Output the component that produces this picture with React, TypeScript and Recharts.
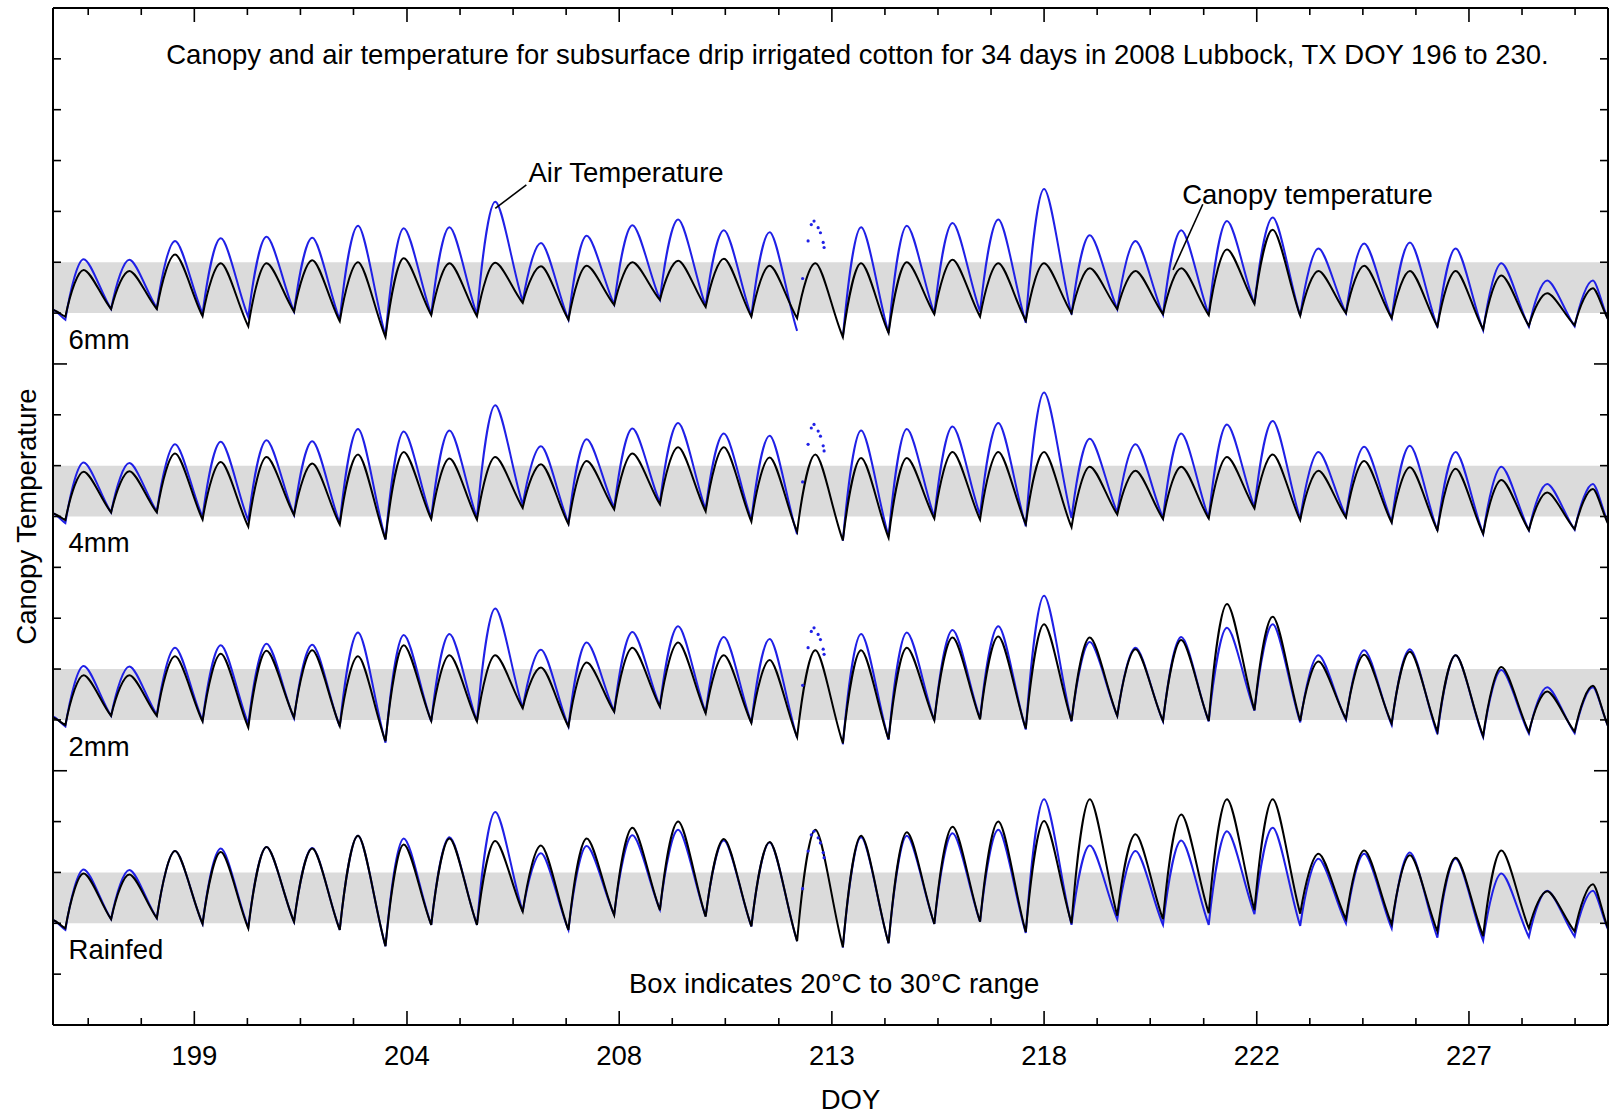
import React from "react";
import {
  ComposedChart,
  Line,
  XAxis,
  YAxis,
  ReferenceArea,
  ReferenceLine,
  ReferenceDot,
} from "recharts";

// day of year, one entry per daily cycle
const DOY = [
  196, 197, 198, 199, 200, 201, 202, 203, 204, 205, 206, 207, 208, 209, 210, 211, 212,
  213, 214, 215, 216, 217, 218, 219, 220, 221, 222, 223, 224, 225, 226, 227, 228, 229,
];

// air temperature (°C): dawn minimum and afternoon maximum of each day
const AIR_MIN = [
  18.7, 20.8, 21.0, 19.9, 19.2, 20.3, 18.7, 15.5, 19.7, 19.7, 22.3, 18.7, 21.7, 22.7, 21.4, 19.4, 16.5,
  15.2, 16.1, 19.9, 20.3, 18.1, 19.7, 20.8, 19.7, 19.7, 21.8, 19.5, 20.0, 19.0, 17.2, 16.6, 17.3, 17.4,
];
// DOY 212: the logger only kept a few scattered readings (AIR_DOTS_212)
const AIR_MAX = [
  30.6, 30.5, 34.2, 34.7, 35.0, 34.8, 37.2, 36.7, 36.9, 41.9, 33.8, 35.2, 37.3, 38.4, 36.3, 35.9, null,
  36.9, 37.2, 37.7, 38.4, 44.4, 35.3, 34.2, 36.3, 38.1, 38.8, 32.7, 33.7, 33.9, 32.7, 29.8, 26.4, 26.4,
];
const AIR_START = 20.6;
const AIR_END = 18.8;
const AIR_DOTS_212 = [
  { t: 212.39, v: 26.8 },
  { t: 212.51, v: 34.2 },
  { t: 212.58, v: 37.4 },
  { t: 212.64, v: 38.1 },
  { t: 212.73, v: 36.8 },
  { t: 212.78, v: 35.8 },
  { t: 212.84, v: 33.9 },
  { t: 212.86, v: 32.9 },
];

// canopy temperature (°C) per irrigation level
const CAN_6MM_MIN = [
  19.3, 20.8, 20.8, 19.4, 17.4, 20.3, 18.4, 15.3, 19.6, 19.4, 22.0, 18.7, 21.6, 22.6, 21.2, 19.3, 19.0,
  15.3, 16.1, 19.8, 19.3, 18.5, 20.0, 20.8, 19.8, 19.6, 21.8, 19.5, 20.0, 19.0, 17.4, 16.8, 17.5, 17.6,
];
const CAN_6MM_MAX = [
  28.5, 28.3, 31.5, 29.8, 29.8, 30.4, 30.0, 30.8, 29.8, 29.9, 29.2, 29.3, 30.0, 30.3, 30.7, 29.3, 29.8,
  29.8, 30.0, 30.5, 29.8, 29.8, 28.8, 28.3, 28.8, 32.5, 36.4, 28.3, 29.3, 28.3, 28.3, 27.4, 23.9, 24.9,
];
const CAN_4MM_MIN = [
  19.3, 20.8, 20.8, 19.4, 18.0, 20.3, 18.4, 15.5, 19.5, 19.4, 21.7, 18.5, 21.4, 22.4, 21.0, 19.0, 17.0,
  15.3, 15.8, 19.6, 19.4, 18.5, 17.9, 20.4, 19.5, 19.6, 21.6, 19.3, 19.8, 18.8, 17.3, 16.6, 17.3, 17.5,
];
const CAN_4MM_MAX = [
  28.8, 28.9, 32.4, 30.7, 31.7, 30.4, 32.2, 32.7, 31.4, 31.7, 30.3, 30.9, 32.4, 33.6, 33.6, 31.6, 32.2,
  31.5, 31.5, 32.7, 32.7, 32.7, 29.8, 29.0, 29.8, 31.7, 32.2, 29.0, 30.9, 29.7, 29.4, 27.2, 24.7, 25.4,
];
const CAN_2MM_MIN = [
  19.0, 20.8, 20.8, 19.7, 18.5, 20.5, 18.8, 15.8, 19.8, 19.7, 22.3, 18.7, 21.6, 22.6, 21.3, 19.4, 16.6,
  15.4, 16.2, 19.9, 20.1, 18.3, 19.8, 20.8, 19.8, 19.8, 21.9, 19.8, 20.2, 19.3, 17.7, 16.8, 17.6, 17.7,
];
const CAN_2MM_MAX = [
  28.8, 28.8, 32.5, 33.0, 33.6, 33.7, 32.5, 34.7, 32.7, 32.7, 30.3, 31.3, 34.2, 35.2, 32.7, 31.8, 33.7,
  33.7, 34.2, 36.2, 36.4, 38.8, 36.2, 33.9, 35.7, 42.8, 40.3, 31.5, 32.8, 33.4, 32.7, 30.4, 25.6, 26.7,
];
const CAN_RAIN_MIN = [
  19.0, 20.8, 21.0, 19.9, 19.0, 20.3, 18.7, 15.5, 19.7, 19.7, 22.3, 18.7, 21.6, 22.6, 21.3, 19.4, 16.5,
  15.3, 16.1, 19.9, 20.3, 18.3, 20.0, 21.5, 20.8, 22.0, 22.6, 21.9, 20.8, 19.8, 18.4, 17.5, 19.0, 18.4,
];
const CAN_RAIN_MAX = [
  29.8, 29.6, 34.2, 34.0, 35.0, 34.7, 37.2, 35.5, 36.7, 36.2, 35.3, 36.7, 38.8, 40.0, 36.6, 36.0, 38.4,
  37.2, 37.9, 39.0, 40.0, 40.1, 44.4, 37.5, 41.4, 44.4, 44.4, 33.7, 34.3, 33.4, 32.9, 34.3, 26.3, 27.7,
];
const CAN_START = [20.6, 20.6, 20.4, 20.6];
const CAN_END = [18.8, 18.6, 18.8, 19.0];

const PANEL_NAMES = ["6mm", "4mm", "2mm", "Rainfed"];
const PANEL_MINS = [CAN_6MM_MIN, CAN_4MM_MIN, CAN_2MM_MIN, CAN_RAIN_MIN];
const PANEL_MAXS = [CAN_6MM_MAX, CAN_4MM_MAX, CAN_2MM_MAX, CAN_RAIN_MAX];
// each panel is lifted by this many degrees on the shared axis
const PANEL_OFFSETS = [120, 80, 40, 0];

// axis ticks (DOY) as drawn in the figure
const X_TICKS = [
  196.77, 197.93, 199.09, 200.25, 201.41, 202.57, 203.74, 204.9, 206.06, 207.22, 208.38, 209.54,
  210.7, 211.87, 213.03, 214.19, 215.35, 216.51, 217.67, 218.83, 219.99, 221.16, 222.32, 223.48,
  224.64, 225.8, 226.96, 228.12, 229.28,
];
const X_MAJOR = [199.09, 203.74, 208.38, 213.03, 217.67, 222.32, 226.96];
const X_LABELS = ["199", "204", "208", "213", "218", "222", "227"];
const Y_TICKS = [10, 20, 30, 40, 50, 60, 70, 80, 90, 100, 110, 120, 130, 140, 150, 160, 170, 180, 190];
const Y_MAJOR = [50, 130];

// time of day of the dawn minimum and afternoon maximum
const MIN_AT = 0.27;
const MAX_AT = 0.67;

const BLUE = "#2020e6";
const BLACK = "#000000";
const BOX = "#dbdbdb";
const FONT = "'Liberation Sans', Arial, Helvetica, sans-serif";
const FS = 27.5;

type Pt = { t: number; v: number | null };

function buildSeries(
  mins: (number | null)[],
  maxs: (number | null)[],
  start: number,
  end: number,
  offset: number,
): Pt[] {
  const pts: Pt[] = [{ t: 196, v: start + offset }];
  DOY.forEach((d, i) => {
    const lo = mins[i];
    const hi = maxs[i];
    pts.push({ t: d + MIN_AT, v: lo == null ? null : lo + offset });
    pts.push({ t: d + MAX_AT, v: hi == null ? null : hi + offset });
  });
  pts.push({ t: 230, v: end + offset });
  return pts;
}

// curve style for a daily cycle: sharp at the dawn low, rounded at the afternoon high
const diurnalCurve: any = (ctx: any) => {
  let pts: number[][] = [];
  return {
    areaStart() {},
    areaEnd() {},
    lineStart() {
      pts = [];
    },
    point(x: number, y: number) {
      pts.push([+x, +y]);
    },
    lineEnd() {
      if (!pts.length) return;
      ctx.moveTo(pts[0][0], pts[0][1]);
      for (let i = 1; i < pts.length; i++) {
        const [x0, y0] = pts[i - 1];
        const [x1, y1] = pts[i];
        const dx = x1 - x0;
        const dy = y1 - y0;
        if (dy < 0) {
          // rising: quick climb after sunrise, rounding off at the high
          ctx.bezierCurveTo(x0 + dx * 0.3, y0 + dy * 0.55, x0 + dx * 0.7, y1, x1, y1);
        } else {
          // falling: short rounded top, then a fairly straight run into the low
          ctx.bezierCurveTo(x0 + dx * 0.25, y0, x0 + dx * 0.65, y0 + dy * 0.7, x1, y1);
        }
      }
    },
  };
};

const makeXTick = (top: boolean) => (props: any) => {
  const { x, y, payload } = props;
  const idx = X_MAJOR.indexOf(payload.value);
  const len = idx >= 0 ? 14 : 7;
  return (
    <g>
      <line x1={x} x2={x} y1={y} y2={top ? y + len : y - len} stroke={BLACK} strokeWidth={1.6} />
      {!top && idx >= 0 && (
        <text
          x={x}
          y={y + 30}
          textAnchor="middle"
          dominantBaseline="central"
          fontFamily={FONT}
          fontSize={FS}
          fill={BLACK}
        >
          {X_LABELS[idx]}
        </text>
      )}
    </g>
  );
};

const makeYTick = (right: boolean) => (props: any) => {
  const { x, y, payload } = props;
  const len = Y_MAJOR.includes(payload.value) ? 14 : 8;
  return <line x1={x} x2={right ? x - len : x + len} y1={y} y2={y} stroke={BLACK} strokeWidth={1.6} />;
};

const textShape = (txt: string, anchor: "start" | "middle") => (p: any) => (
  <text
    x={p.cx}
    y={p.cy}
    textAnchor={anchor}
    dominantBaseline="central"
    fontFamily={FONT}
    fontSize={FS}
    fill={BLACK}
  >
    {txt}
  </text>
);

export default function App() {
  const airSeries = PANEL_OFFSETS.map((off) => buildSeries(AIR_MIN, AIR_MAX, AIR_START, AIR_END, off));
  const canSeries = PANEL_OFFSETS.map((off, k) =>
    buildSeries(PANEL_MINS[k], PANEL_MAXS[k], CAN_START[k], CAN_END[k], off),
  );
  const dotSeries = PANEL_OFFSETS.map((off) => AIR_DOTS_212.map((p) => ({ t: p.t, v: p.v + off })));

  return (
    <div style={{ position: "absolute", left: 0, top: 0, background: "#fff" }}>
      <ComposedChart width={1610} height={1113} margin={{ top: 7, right: 1, bottom: 0, left: 0 }}>
        <XAxis
          dataKey="t"
          type="number"
          domain={[196, 230]}
          ticks={X_TICKS}
          interval={0}
          tickSize={0}
          tickMargin={0}
          height={88}
          allowDataOverflow
          axisLine={{ stroke: BLACK, strokeWidth: 2 }}
          tick={makeXTick(false)}
          label={(p: any) => {
            const vb = p.viewBox;
            return (
              <text
                x={vb.x + vb.width / 2 + 20}
                y={vb.y + 74}
                textAnchor="middle"
                dominantBaseline="central"
                fontFamily={FONT}
                fontSize={FS}
                fill={BLACK}
              >
                DOY
              </text>
            );
          }}
        />
        <XAxis
          xAxisId="top"
          orientation="top"
          dataKey="t"
          type="number"
          domain={[196, 230]}
          ticks={X_TICKS}
          interval={0}
          tickSize={0}
          tickMargin={0}
          height={1}
          allowDataOverflow
          axisLine={{ stroke: BLACK, strokeWidth: 2 }}
          tick={makeXTick(true)}
        />
        <YAxis
          type="number"
          domain={[0, 200]}
          ticks={Y_TICKS}
          interval={0}
          tickSize={0}
          tickMargin={0}
          width={53}
          allowDataOverflow
          axisLine={{ stroke: BLACK, strokeWidth: 2 }}
          tick={makeYTick(false)}
          label={(p: any) => {
            const vb = p.viewBox;
            const cx = vb.x + 26;
            const cy = vb.y + vb.height / 2;
            return (
              <text
                x={cx}
                y={cy}
                transform={`rotate(-90, ${cx}, ${cy})`}
                textAnchor="middle"
                dominantBaseline="central"
                fontFamily={FONT}
                fontSize={FS}
                fill={BLACK}
              >
                Canopy Temperature
              </text>
            );
          }}
        />
        <YAxis
          yAxisId="right"
          orientation="right"
          type="number"
          domain={[0, 200]}
          ticks={Y_TICKS}
          interval={0}
          tickSize={0}
          tickMargin={0}
          width={1}
          allowDataOverflow
          axisLine={{ stroke: BLACK, strokeWidth: 2 }}
          tick={makeYTick(true)}
        />

        {PANEL_OFFSETS.map((off) => (
          <ReferenceArea
            key={`box-${off}`}
            x1={196}
            x2={230}
            y1={off + 20}
            y2={off + 30}
            fill={BOX}
            fillOpacity={1}
            stroke="none"
          />
        ))}

        {airSeries.map((s, k) => (
          <Line
            key={`air-${k}`}
            data={s}
            dataKey="v"
            type={diurnalCurve}
            stroke={BLUE}
            strokeWidth={2}
            dot={false}
            activeDot={false}
            isAnimationActive={false}
          />
        ))}
        {dotSeries.map((s, k) => (
          <Line
            key={`dots-${k}`}
            data={s}
            dataKey="v"
            xAxisId="top"
            yAxisId="right"
            stroke="none"
            dot={{ r: 1.6, fill: BLUE, stroke: "none" }}
            activeDot={false}
            isAnimationActive={false}
          />
        ))}
        {canSeries.map((s, k) => (
          <Line
            key={`can-${k}`}
            data={s}
            dataKey="v"
            type={diurnalCurve}
            stroke={BLACK}
            strokeWidth={2}
            dot={false}
            activeDot={false}
            isAnimationActive={false}
          />
        ))}

        {PANEL_NAMES.map((name, k) => (
          <ReferenceDot
            key={`lbl-${name}`}
            x={196.34}
            y={PANEL_OFFSETS[k] + 14.8}
            r={0}
            shape={textShape(name, "start")}
          />
        ))}
        <ReferenceDot
          x={213.59}
          y={190.8}
          r={0}
          shape={textShape(
            "Canopy and air temperature for subsurface drip irrigated cotton for 34 days in 2008 Lubbock, TX DOY 196 to 230.",
            "middle",
          )}
        />
        <ReferenceDot x={208.53} y={167.6} r={0} shape={textShape("Air Temperature", "middle")} />
        <ReferenceLine
          segment={[
            { x: 206.35, y: 165.2 },
            { x: 205.67, y: 160.6 },
          ]}
          stroke={BLACK}
          strokeWidth={1.6}
        />
        <ReferenceDot x={223.43} y={163.4} r={0} shape={textShape("Canopy temperature", "middle")} />
        <ReferenceLine
          segment={[
            { x: 221.14, y: 161.4 },
            { x: 220.49, y: 148.5 },
          ]}
          stroke={BLACK}
          strokeWidth={1.6}
        />
        <ReferenceDot
          x={213.08}
          y={8.1}
          r={0}
          shape={textShape("Box indicates 20°C to 30°C range", "middle")}
        />
      </ComposedChart>
    </div>
  );
}
